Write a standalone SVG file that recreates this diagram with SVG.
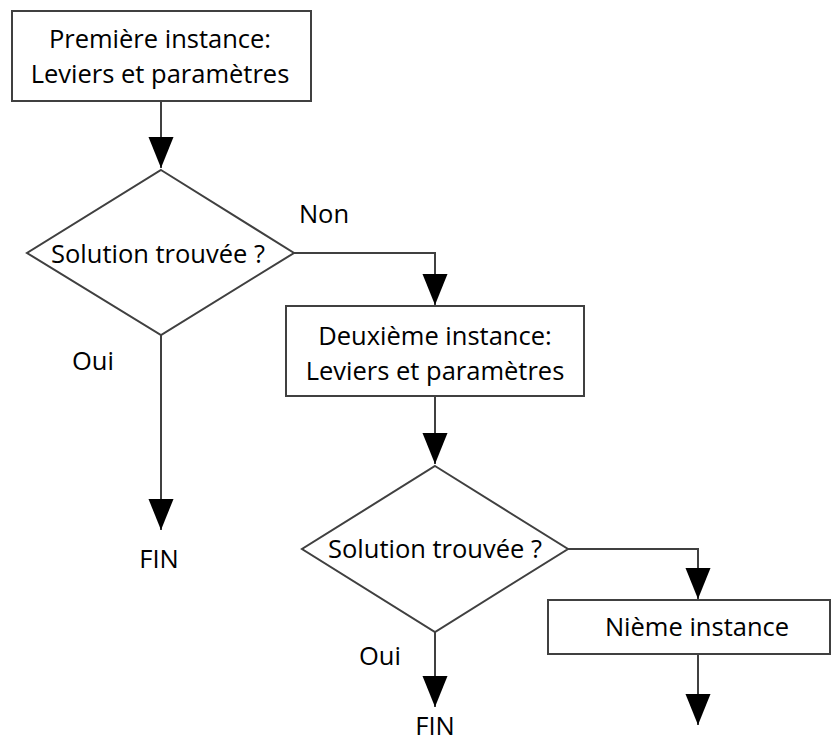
<svg xmlns="http://www.w3.org/2000/svg" width="832" height="744" viewBox="0 0 832 744">
<defs>
<style>
.node{fill:#ffffff;stroke:#404040;stroke-width:2}
.conn{fill:none;stroke:#404040;stroke-width:2}
text{font-family:"Open Sans","Liberation Sans",sans-serif;font-size:25.5px;fill:#000000;text-anchor:middle}
</style>
<marker id="arr" markerUnits="userSpaceOnUse" markerWidth="32" markerHeight="26" refX="31" refY="12.5" orient="auto">
<path d="M0,0 L31,12.5 L0,25 z" fill="#000000"/>
</marker>
</defs>
<rect width="832" height="744" fill="#ffffff"/>
<g id="connectors">
<path class="conn" d="M161,101 L161,168" marker-end="url(#arr)"/>
<path class="conn" d="M294,253 L435,253 L435,305" marker-end="url(#arr)"/>
<path class="conn" d="M161,335 L161,530" marker-end="url(#arr)"/>
<path class="conn" d="M435,396 L435,464" marker-end="url(#arr)"/>
<path class="conn" d="M568,549 L698,549 L698,599" marker-end="url(#arr)"/>
<path class="conn" d="M435,632 L435,707" marker-end="url(#arr)"/>
<path class="conn" d="M698,654 L698,725" marker-end="url(#arr)"/>
</g>
<g id="box1">
<rect class="node" x="12" y="11" width="299" height="90"/>
<text x="160" y="48">Première instance:</text>
<text x="160" y="83">Leviers et paramètres</text>
</g>
<g id="decision1">
<polygon class="node" points="161,170 294,253 161,335 27,253"/>
<text x="158" y="263">Solution trouvée ?</text>
</g>
<g id="label-non"><text x="324" y="223">Non</text></g>
<g id="label-oui1"><text x="93" y="370">Oui</text></g>
<g id="fin1"><text x="159" y="568">FIN</text></g>
<g id="box2">
<rect class="node" x="286" y="306" width="298" height="90"/>
<text x="435" y="345">Deuxième instance:</text>
<text x="435" y="380">Leviers et paramètres</text>
</g>
<g id="decision2">
<polygon class="node" points="435,466 568,549 435,632 302,549"/>
<text x="435" y="558">Solution trouvée ?</text>
</g>
<g id="label-oui2"><text x="380" y="665">Oui</text></g>
<g id="fin2"><text x="435" y="735">FIN</text></g>
<g id="box3">
<rect class="node" x="548" y="600" width="282" height="54"/>
<text x="697" y="636">Nième instance</text>
</g>
</svg>
